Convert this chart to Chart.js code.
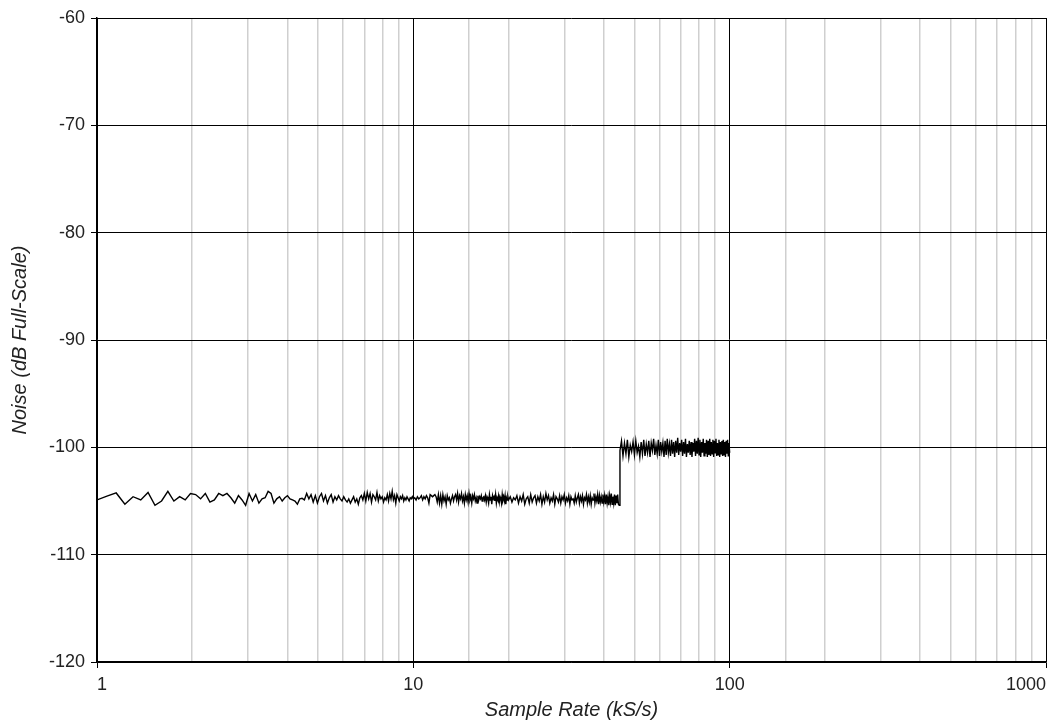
<!DOCTYPE html>
<html>
<head>
<meta charset="utf-8">
<script src="https://cdn.jsdelivr.net/npm/chart.js@4/dist/chart.umd.min.js"></script>
<style>
  html, body { margin: 0; padding: 0; background: #fff; }
  canvas { display: block; }
</style>
</head>
<body>
<canvas id="c" width="1053" height="722"></canvas>
<script>
// X range / tick labels
const xTickLabels = [1, 10, 100, 1000];
const yTickLabels = [-120, -110, -100, -90, -80, -70, -60];

// Segment 1: 1 .. 9.925 kS/s, sampled every 0.075 kS/s
const seg1Start = 1, seg1Step = 0.075;
const seg1Noise = [
  -104.9, -104.55, -104.25, -105.3, -104.6, -104.9, -104.2, -105.4, -105.0, -104.1,
  -105.0, -104.6, -104.9, -104.3, -104.4, -104.8,
  -104.3, -105.1, -104.9, -104.3, -104.5, -104.3, -104.7, -105.2, -104.5, -104.9,
  -105.4, -104.3, -105.0, -104.4, -105.2, -104.8, -104.7, -104.1, -104.3, -105.2,
  -104.8, -104.6, -105.0, -104.7, -104.5, -104.8, -104.9, -105.0, -105.3, -104.8,
  -104.75, -104.9, -104.3, -104.8,
  -104.4, -105.1, -104.5, -105.2, -104.6, -104.3, -105.0, -104.5, -105.2, -104.7,
  -104.4, -105.1, -104.6, -104.9, -104.5, -104.8, -105.0, -104.6, -104.9, -105.1,
  -104.8, -105.2, -104.9, -104.6, -105.1, -104.8, -105.3, -104.7, -104.5, -104.9,
  -104.3, -105.0, -104.2, -104.8, -104.3, -105.1, -104.4, -104.6, -104.9, -104.2,
  -105.0, -104.5, -104.8, -104.6, -105.1, -104.7, -104.9, -104.4, -105.0, -104.3,
  -104.8, -104.1, -104.9, -104.5, -105.2, -104.4, -104.7, -105.0, -104.6, -104.8,
  -104.5, -105.0, -104.7, -104.9, -104.6, -104.8, -105.0, -104.7, -104.8, -104.6
];

// Segment 2: 10 .. 19.9 kS/s, sampled every 0.1 kS/s
const seg2Start = 10, seg2Step = 0.1;
const seg2Noise = [
  -104.8, -104.7, -104.9, -104.6, -104.8, -104.7, -104.5, -104.9, -104.6, -104.8,
  -104.5, -104.7, -105.2, -104.4, -104.5, -104.6, -104.5, -104.4, -104.6, -105.1,
  -104.4, -105.2, -104.5, -105.3, -104.4, -105.0, -104.6, -105.3, -104.5, -104.9,
  -104.7, -105.2, -104.8, -104.5, -105.0, -104.6, -104.4, -104.9, -104.3, -105.1,
  -104.5, -104.8, -104.3, -105.0, -104.6, -105.2, -104.4, -104.9, -104.5, -105.1,
  -104.3, -104.9, -104.6, -105.2, -104.5, -104.8, -104.4, -105.0, -104.7, -105.2,
  -104.5, -104.9, -104.6, -104.8, -104.5, -105.0, -104.7, -104.6, -104.9, -104.5,
  -105.1, -104.6, -104.8, -105.2, -104.4, -104.9, -104.6, -105.3, -104.5, -104.8,
  -104.6, -105.0, -104.4, -105.2, -104.7, -104.9, -104.5, -105.1, -104.6, -104.8,
  -105.2, -104.4, -104.9, -104.6, -105.0, -104.5, -105.3, -104.7, -104.9, -104.6
];

// Segment 3: 20 .. 44.75 kS/s, sampled every 0.25 kS/s
const seg3Start = 20, seg3Step = 0.25;
const seg3Noise = [
  -104.9, -104.6, -105.1, -104.7, -104.9, -104.5, -105.2, -104.6, -105.0, -104.4,
  -105.3, -104.8, -104.6, -105.2, -104.4, -105.1, -104.7, -104.5, -105.2, -104.6,
  -105.0, -104.4, -105.3, -104.6, -105.1, -104.3, -104.9, -104.5, -105.2, -104.7,
  -105.0, -104.4, -105.3, -104.6, -104.8, -105.1, -104.5, -105.2, -104.6, -104.9,
  -104.4, -105.2, -104.7, -105.0, -104.5, -105.3, -104.6, -104.9, -104.8, -105.2,
  -104.5, -105.1, -104.7, -104.4, -105.2, -104.6, -105.0, -104.5, -105.3, -104.7,
  -104.9, -104.4, -105.2, -104.6, -105.1, -104.5, -105.3, -104.7, -104.9, -104.3,
  -105.2, -104.6, -105.0, -104.4, -105.3, -104.5, -105.1, -104.6, -105.2, -104.4,
  -105.1, -104.5, -105.3, -104.4, -105.2, -104.6, -105.4, -104.5, -105.1, -104.3,
  -105.3, -104.6, -105.2, -104.4, -105.4, -104.5, -105.2, -104.4, -105.3, -105.4
];

// Segment 4: 45 .. 100 kS/s, sampled every 0.5 kS/s
const seg4Start = 45, seg4Step = 0.5;
const seg4Noise = [
  -100.3, -99.4, -100.8, -99.6, -100.6, -99.3, -100.9, -99.8, -100.4, -99.5,
  -100.7, -99.4, -100.5, -99.9, -100.9, -99.5, -100.6, -99.3, -100.8, -99.7,
  -100.5, -99.4, -100.9, -99.6, -100.3, -99.2, -100.7, -99.8, -100.6, -99.3,
  -100.8, -99.5, -100.4, -99.6, -100.9, -99.4, -100.7, -99.2, -100.5, -99.7,
  -100.8, -99.3, -100.6, -99.5, -100.9, -99.4, -100.5, -99.1, -100.7, -99.6,
  -100.4, -99.3, -100.8, -99.5, -100.6, -99.2, -100.9, -99.7, -100.5, -99.4,
  -100.7, -99.5, -100.9, -99.6, -100.4, -99.2, -100.8, -99.4, -100.6, -99.1,
  -100.7, -99.3, -100.9, -99.5, -100.5, -99.2, -100.8, -99.6, -100.6, -99.3,
  -100.9, -99.4, -100.7, -99.2, -100.8, -99.5, -100.6, -99.3, -100.9, -99.4,
  -100.5, -99.2, -100.8, -99.6, -100.7, -99.3, -100.9, -99.5, -100.6, -99.4,
  -100.8, -99.3, -100.7, -99.5, -100.9, -99.4, -100.6, -99.3, -100.8, -99.6,
  -100.5
];

function toPoints(start, step, values) {
  return values.map((v, i) => ({ x: +(start + i * step).toFixed(4), y: v }));
}
const points = [].concat(
  toPoints(seg1Start, seg1Step, seg1Noise),
  toPoints(seg2Start, seg2Step, seg2Noise),
  toPoints(seg3Start, seg3Step, seg3Noise),
  toPoints(seg4Start, seg4Step, seg4Noise)
);

const FONT = '"Liberation Sans", Arial, sans-serif';
function isDecade(v) {
  const l = Math.log10(v);
  return Math.abs(l - Math.round(l)) < 1e-9;
}

new Chart(document.getElementById('c'), {
  type: 'line',
  data: {
    datasets: [{
      data: points,
      borderColor: '#000',
      borderWidth: 1.4,
      pointRadius: 0,
      tension: 0,
      fill: false
    }]
  },
  options: {
    responsive: false,
    animation: false,
    devicePixelRatio: 1,
    layout: { padding: { top: 18, right: 7, left: 0, bottom: 0 } },
    plugins: { legend: { display: false }, tooltip: { enabled: false } },
    scales: {
      x: {
        type: 'logarithmic',
        min: xTickLabels[0],
        max: xTickLabels[xTickLabels.length - 1],
        afterFit: s => { s.height = 60; },
        border: { color: '#000', width: 1.5 },
        grid: {
          color: ctx => (ctx.tick && isDecade(ctx.tick.value)) ? '#000' : '#cfcfcf',
          lineWidth: ctx => (ctx.tick && isDecade(ctx.tick.value)) ? 1 : 1.5,
          tickColor: ctx => (ctx.tick && isDecade(ctx.tick.value)) ? '#000' : 'rgba(0,0,0,0)',
          tickLength: 6
        },
        ticks: {
          autoSkip: false,
          maxRotation: 0,
          minRotation: 0,
          align: 'inner',
          padding: 6,
          color: '#222',
          font: { family: FONT, size: 18 },
          callback: v => (isDecade(v) && xTickLabels.includes(Math.round(v))) ? String(Math.round(v)) : ''
        },
        title: {
          display: true,
          text: 'Sample Rate (kS/s)',
          color: '#222',
          font: { family: FONT, size: 20, style: 'italic' },
          padding: { top: 2, bottom: 0 }
        }
      },
      y: {
        type: 'linear',
        min: yTickLabels[0],
        max: yTickLabels[yTickLabels.length - 1],
        afterFit: s => { s.width = 97; },
        afterBuildTicks: s => { s.ticks = yTickLabels.map(v => ({ value: v })); },
        border: { color: '#000', width: 1.5 },
        grid: { color: '#000', lineWidth: 1, tickLength: 6, tickColor: '#000' },
        ticks: {
          padding: 6,
          color: '#222',
          font: { family: FONT, size: 18 },
          callback: v => String(v)
        },
        title: {
          display: true,
          text: 'Noise (dB Full-Scale)',
          color: '#222',
          font: { family: FONT, size: 20, style: 'italic' },
          padding: { top: 8, bottom: 0 }
        }
      }
    }
  }
});
</script>
</body>
</html>
